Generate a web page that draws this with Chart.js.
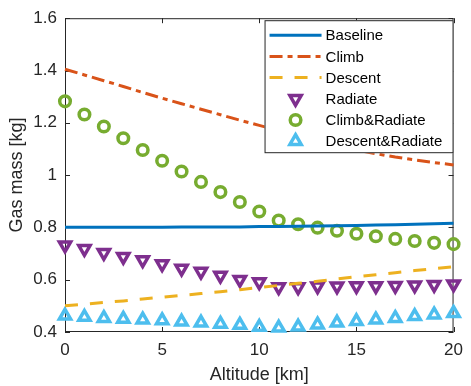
<!DOCTYPE html>
<html>
<head>
<meta charset="utf-8">
<script src="https://cdn.jsdelivr.net/npm/chart.js@4"></script>
<style>
  html, body { margin: 0; padding: 0; background: #fff; }
</style>
</head>
<body>
<canvas id="graficoMassaGas" width="471" height="386"></canvas>
<script>
// dados
const altitude = [0, 1, 2, 3, 4, 5, 6, 7, 8, 9, 10, 11, 12, 13, 14, 15, 16, 17, 18, 19, 20];
const baseline = [0.801, 0.801, 0.801, 0.801, 0.801, 0.801, 0.802, 0.802, 0.802, 0.802, 0.803, 0.803, 0.804, 0.805, 0.806, 0.807, 0.809, 0.810, 0.812, 0.814, 0.816];
const climb = [1.405, 1.383, 1.361, 1.339, 1.316, 1.294, 1.273, 1.252, 1.231, 1.210, 1.190, 1.170, 1.151, 1.132, 1.113, 1.096, 1.082, 1.069, 1.058, 1.048, 1.039];
const descent = [0.500, 0.506, 0.513, 0.519, 0.526, 0.533, 0.540, 0.547, 0.554, 0.562, 0.570, 0.578, 0.586, 0.594, 0.603, 0.612, 0.619, 0.627, 0.635, 0.642, 0.650];
const radiate = [0.732, 0.718, 0.703, 0.688, 0.675, 0.660, 0.643, 0.631, 0.616, 0.600, 0.591, 0.572, 0.572, 0.575, 0.575, 0.576, 0.576, 0.577, 0.579, 0.581, 0.583];
const climbRadiate = [1.282, 1.232, 1.186, 1.141, 1.096, 1.055, 1.014, 0.974, 0.935, 0.897, 0.861, 0.826, 0.812, 0.799, 0.787, 0.776, 0.766, 0.756, 0.748, 0.741, 0.736];
const descentRadiate = [0.462, 0.457, 0.453, 0.450, 0.447, 0.444, 0.439, 0.435, 0.431, 0.427, 0.419, 0.416, 0.420, 0.428, 0.435, 0.441, 0.447, 0.453, 0.460, 0.466, 0.472];

const xTicks = [0, 5, 10, 15, 20];
const yTicks = [0.4, 0.6, 0.8, 1, 1.2, 1.4, 1.6];

const corTexto = '#262626';
const fonte = 'Liberation Sans, Arial, sans-serif';

const pontos = ys => ys.map((v, i) => ({ x: altitude[i], y: v }));

const linha = (label, ys, cor, dash) => ({
  label: label,
  data: pontos(ys),
  borderColor: cor,
  borderWidth: 3,
  borderDash: dash,
  pointRadius: 0,
  showLine: true,
  fill: false
});

const marcador = (label, ys, cor, estilo, rot, raio) => ({
  label: label,
  data: pontos(ys),
  borderColor: cor,
  backgroundColor: 'rgba(0,0,0,0)',
  showLine: false,
  pointStyle: estilo,
  pointRotation: rot,
  pointRadius: raio,
  pointBorderWidth: 3.5,
  pointBorderColor: cor,
  pointBackgroundColor: 'rgba(0,0,0,0)'
});

// caixa dos eixos com marcas para dentro (estilo MATLAB)
const caixa = {
  id: 'caixa',
  beforeDatasetsDraw(chart) {
    const { ctx, chartArea: a, scales: { x, y } } = chart;
    ctx.save();
    ctx.strokeStyle = corTexto;
    ctx.lineWidth = 1;
    ctx.strokeRect(a.left + 0.5, a.top + 0.5, a.right - a.left - 1, a.bottom - a.top - 1);
    ctx.beginPath();
    x.ticks.forEach(t => {
      const px = Math.round(x.getPixelForValue(t.value)) + 0.5;
      ctx.moveTo(px, a.bottom); ctx.lineTo(px, a.bottom - 5);
      ctx.moveTo(px, a.top); ctx.lineTo(px, a.top + 5);
    });
    y.ticks.forEach(t => {
      const py = Math.round(y.getPixelForValue(t.value)) + 0.5;
      ctx.moveTo(a.left, py); ctx.lineTo(a.left + 5, py);
      ctx.moveTo(a.right, py); ctx.lineTo(a.right - 5, py);
    });
    ctx.stroke();
    ctx.restore();
  }
};

// legenda dentro da área do gráfico
const legenda = {
  id: 'legenda',
  afterDatasetsDraw(chart) {
    const { ctx, chartArea: a } = chart;
    const w = 189, h = 133;
    const x0 = a.right - w, y0 = a.top + 2;
    ctx.save();
    ctx.fillStyle = '#fff';
    ctx.fillRect(x0, y0, w, h);
    ctx.strokeStyle = corTexto;
    ctx.lineWidth = 1;
    ctx.strokeRect(x0 + 0.5, y0 + 0.5, w - 1, h - 1);
    ctx.font = '15px ' + fonte;
    ctx.textBaseline = 'middle';
    ctx.textAlign = 'left';
    chart.data.datasets.forEach((ds, i) => {
      const ly = y0 + 15 + i * 21.2;
      if (ds.showLine) {
        ctx.save();
        ctx.strokeStyle = ds.borderColor;
        ctx.lineWidth = ds.borderWidth;
        ctx.setLineDash(ds.borderDash || []);
        ctx.beginPath();
        ctx.moveTo(x0 + 5, ly);
        ctx.lineTo(x0 + 57, ly);
        ctx.stroke();
        ctx.restore();
      } else {
        ctx.save();
        ctx.strokeStyle = ds.pointBorderColor;
        ctx.lineWidth = ds.pointBorderWidth;
        ctx.fillStyle = 'rgba(0,0,0,0)';
        Chart.helpers.drawPoint(ctx, {
          pointStyle: ds.pointStyle,
          rotation: ds.pointRotation,
          radius: ds.pointRadius,
          borderWidth: ds.pointBorderWidth
        }, x0 + 31, ly);
        ctx.restore();
      }
      ctx.fillStyle = '#000';
      ctx.fillText(ds.label, x0 + 61, ly + 1);
    });
    ctx.restore();
  }
};

const ctx = document.getElementById('graficoMassaGas').getContext('2d');

const graficoMassaGas = new Chart(ctx, {
  type: 'scatter',
  data: {
    datasets: [
      linha('Baseline', baseline, '#0072BD', []),
      linha('Climb', climb, '#D95319', [13, 5, 5, 5]),
      linha('Descent', descent, '#EDB120', [13, 12]),
      marcador('Radiate', radiate, '#7E2F8E', 'triangle', 180, 6.5),
      marcador('Climb&Radiate', climbRadiate, '#77AC30', 'circle', 0, 5.3),
      marcador('Descent&Radiate', descentRadiate, '#4DBEEE', 'triangle', 0, 6.5)
    ]
  },
  options: {
    responsive: false,
    animation: false,
    events: [],
    clip: false,
    layout: { padding: { top: 12, right: 10, left: 0, bottom: 0 } },
    plugins: {
      legend: { display: false },
      tooltip: { enabled: false }
    },
    scales: {
      x: {
        type: 'linear',
        min: 0,
        max: 20,
        grid: { display: false, drawTicks: false },
        border: { display: false },
        afterBuildTicks: s => { s.ticks = xTicks.map(v => ({ value: v })); },
        afterFit: s => { s.height = 54; },
        ticks: {
          color: corTexto,
          font: { family: fonte, size: 17 },
          padding: 8,
          maxRotation: 0,
          callback: v => String(v)
        },
        title: {
          display: true,
          text: 'Altitude [km]',
          color: corTexto,
          font: { family: fonte, size: 18 },
          padding: { top: 0, bottom: 0 }
        }
      },
      y: {
        type: 'linear',
        min: 0.4,
        max: 1.6,
        grid: { display: false, drawTicks: false },
        border: { display: false },
        afterBuildTicks: s => { s.ticks = yTicks.map(v => ({ value: v })); },
        afterFit: s => { s.width = 65; },
        ticks: {
          color: corTexto,
          font: { family: fonte, size: 17 },
          padding: 8,
          callback: v => String(v)
        },
        title: {
          display: true,
          text: 'Gas mass [kg]',
          color: corTexto,
          font: { family: fonte, size: 18 },
          padding: { top: 6, bottom: 0 }
        }
      }
    }
  },
  plugins: [caixa, legenda]
});
</script>
</body>
</html>
